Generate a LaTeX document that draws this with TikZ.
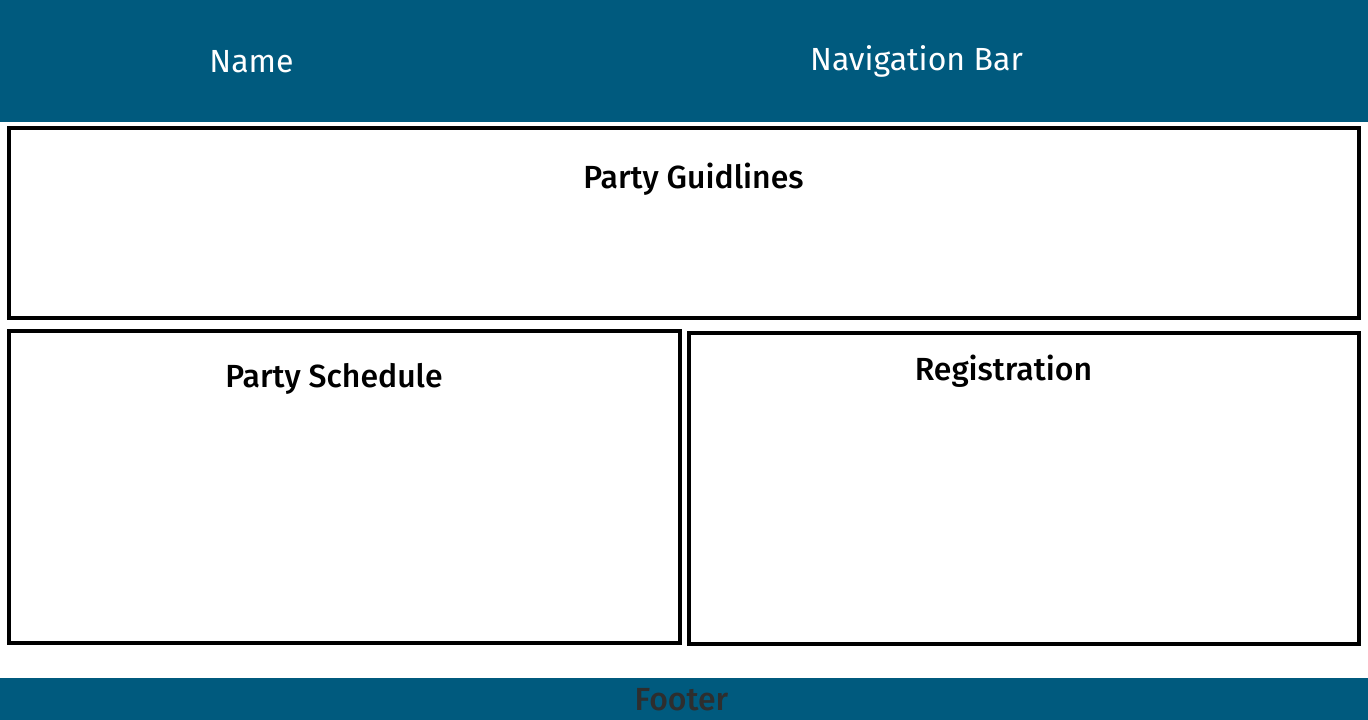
\documentclass[tikz,border=0pt]{standalone}
\usepackage{fontspec}
\setmainfont{Fira Sans}[BoldFont={Fira Sans Medium}]
\definecolor{band}{HTML}{005A7E}
\definecolor{foottext}{HTML}{2E2E2E}
\begin{document}
\begin{tikzpicture}[x=1pt,y=-1pt,
  panel/.style={draw=black,line width=4pt,fill=white},
  bandtext/.style={text=white,font=\fontsize{32}{36}\selectfont,anchor=base,inner sep=0pt},
  paneltext/.style={text=black,font=\bfseries\fontsize{32}{36}\selectfont,anchor=base,inner sep=0pt}]
\useasboundingbox (0,0) rectangle (1368,720);
\fill[white] (0,0) rectangle (1368,720);
\fill[band] (0,0) rectangle (1368,122);
\fill[band] (0,678) rectangle (1368,720);
\draw[panel] (9,128) rectangle (1359,318);
\draw[panel] (9,331) rectangle (680,643);
\draw[panel] (689,333) rectangle (1359,644);
\node[bandtext] (name) at (251.5,72) {Name};
\node[bandtext] (nav) at (916.5,70) {Navigation Bar};
\node[paneltext] (guide) at (693.5,188) {Party Guidlines};
\node[paneltext] (sched) at (334,387) {Party Schedule};
\node[paneltext] (reg) at (1003.5,380) {Registration};
\node[paneltext,text=foottext] (foot) at (681.5,710) {Footer};
\end{tikzpicture}
\end{document}
